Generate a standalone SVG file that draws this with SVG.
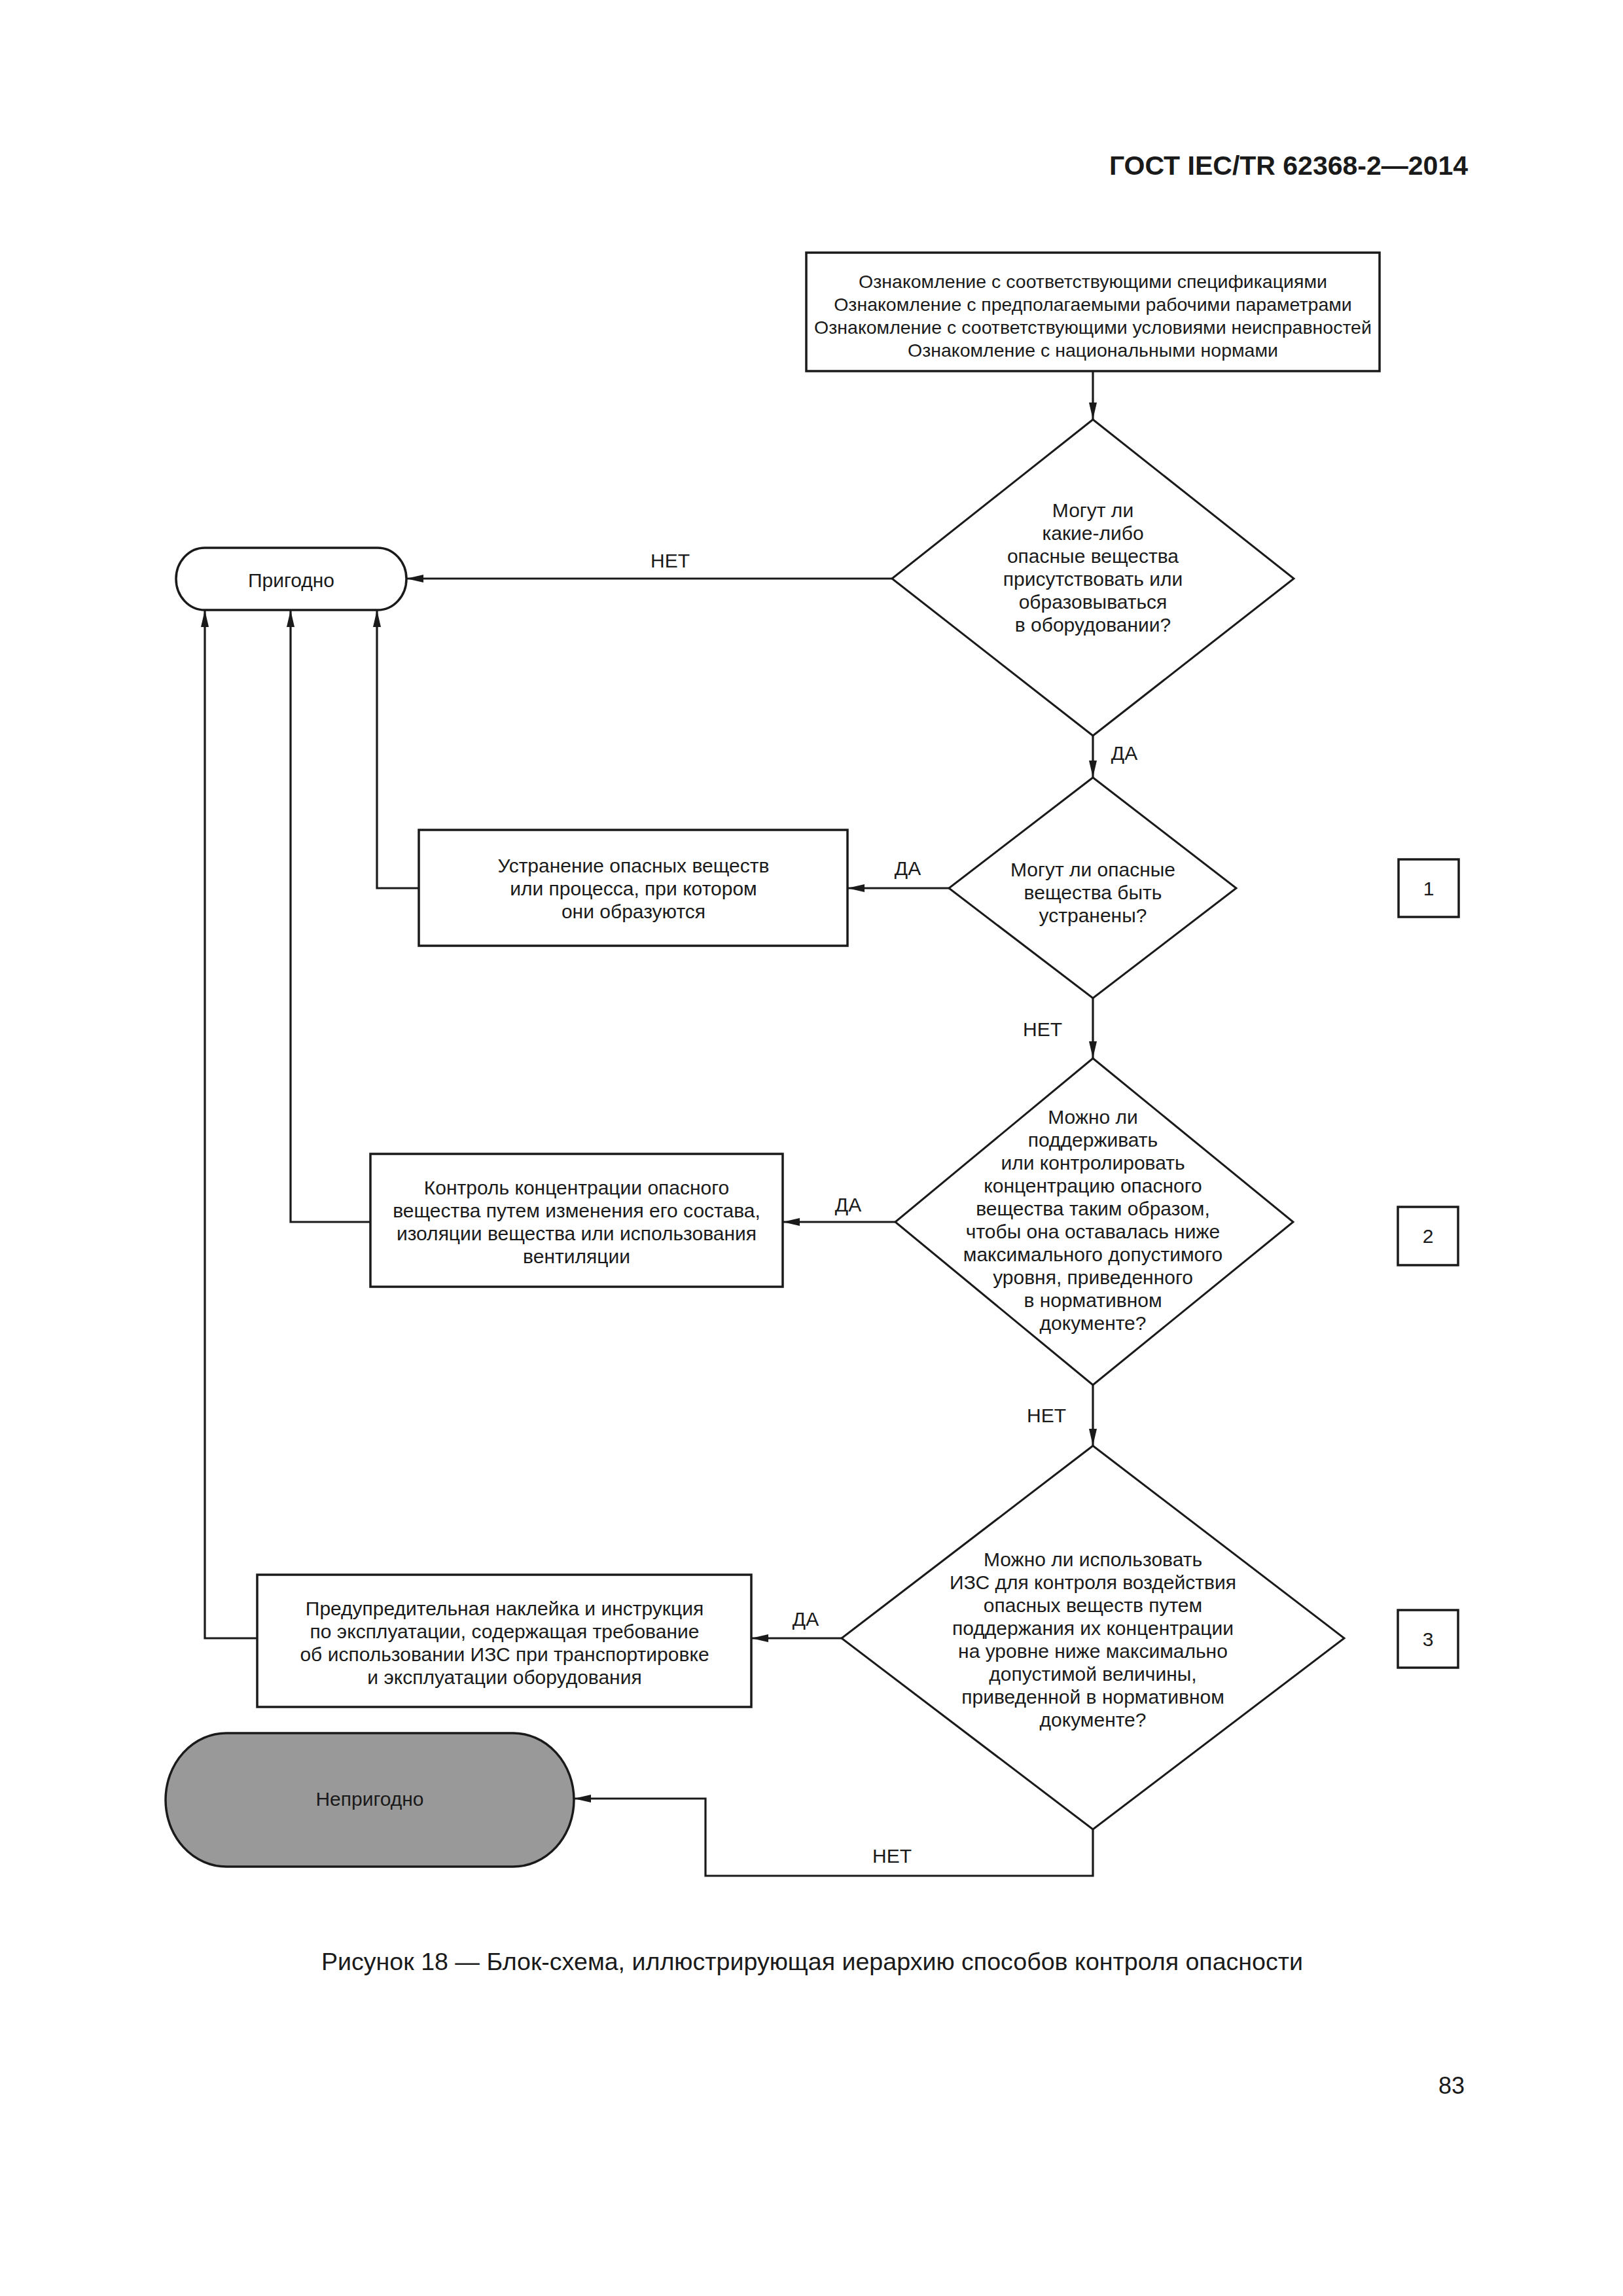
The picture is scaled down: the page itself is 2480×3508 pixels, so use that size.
<svg xmlns="http://www.w3.org/2000/svg" width="2480" height="3508" viewBox="0 0 2480 3508">
<style>
.bg{fill:#ffffff}
.box{fill:#ffffff;stroke:#1a1a1a;stroke-width:3.5}
.dia{fill:#ffffff;stroke:#1a1a1a;stroke-width:3}
.term{fill:#ffffff;stroke:#1a1a1a;stroke-width:3.5}
.termg{fill:#999999;stroke:#1a1a1a;stroke-width:3.5}
.ln{fill:none;stroke:#1a1a1a;stroke-width:3.2}
text{font-family:"Liberation Sans",Arial,sans-serif;fill:#1a1a1a}
.t{font-size:30px;text-anchor:middle}
.t29{font-size:28.5px;text-anchor:middle}
.lbl{font-size:30px;text-anchor:middle}
.hdr{font-size:41px;font-weight:bold;text-anchor:end}
.cap{font-size:37.6px;text-anchor:middle}
.pg{font-size:36px;text-anchor:end}
</style>
<defs>
<marker id="arr" markerUnits="userSpaceOnUse" markerWidth="26" markerHeight="12" refX="26" refY="6" orient="auto">
<path d="M0,0 L26,6 L0,12 Z" fill="#1a1a1a"/>
</marker>
</defs>
<rect class="bg" x="0" y="0" width="2480" height="3508"/>
<text class="hdr" x="2243" y="267">ГОСТ IEC/TR 62368-2—2014</text>

<g id="connectors">
<line class="ln" x1="1670" y1="567" x2="1670" y2="641" marker-end="url(#arr)"/>
<line class="ln" x1="1363" y1="884" x2="621" y2="884" marker-end="url(#arr)"/>
<line class="ln" x1="1670" y1="1124" x2="1670" y2="1188" marker-end="url(#arr)"/>
<line class="ln" x1="1450" y1="1357" x2="1295" y2="1357" marker-end="url(#arr)"/>
<polyline class="ln" points="640,1357 576,1357 576,932" marker-end="url(#arr)"/>
<line class="ln" x1="1670" y1="1525" x2="1670" y2="1617" marker-end="url(#arr)"/>
<line class="ln" x1="1368" y1="1867" x2="1196" y2="1867" marker-end="url(#arr)"/>
<polyline class="ln" points="566,1867 444,1867 444,932" marker-end="url(#arr)"/>
<line class="ln" x1="1670" y1="2116" x2="1670" y2="2209" marker-end="url(#arr)"/>
<line class="ln" x1="1286" y1="2503" x2="1148" y2="2503" marker-end="url(#arr)"/>
<polyline class="ln" points="393,2503 313,2503 313,932" marker-end="url(#arr)"/>
<polyline class="ln" points="1670,2795 1670,2866 1078,2866 1078,2748 877,2748" marker-end="url(#arr)"/>
<text class="lbl" x="1024" y="867">НЕТ</text>
<text class="lbl" x="1718" y="1161">ДА</text>
<text class="lbl" x="1387" y="1337">ДА</text>
<text class="lbl" x="1593" y="1583">НЕТ</text>
<text class="lbl" x="1296" y="1851">ДА</text>
<text class="lbl" x="1599" y="2173">НЕТ</text>
<text class="lbl" x="1231" y="2484">ДА</text>
<text class="lbl" x="1363" y="2846">НЕТ</text>
</g>

<g id="start">
<rect class="box" x="1232" y="386" width="876" height="181"/>
<text class="t29" x="1670" y="440">Ознакомление с соответствующими спецификациями</text>
<text class="t29" x="1670" y="475">Ознакомление с предполагаемыми рабочими параметрами</text>
<text class="t29" x="1670" y="510">Ознакомление с соответствующими условиями неисправностей</text>
<text class="t29" x="1670" y="545">Ознакомление с национальными нормами</text>
</g>

<g id="decision1">
<polygon class="dia" points="1670,641 1977,884 1670,1124 1363,884"/>
<text class="t" x="1670" y="790">Могут ли</text>
<text class="t" x="1670" y="825">какие-либо</text>
<text class="t" x="1670" y="860">опасные вещества</text>
<text class="t" x="1670" y="895">присутствовать или</text>
<text class="t" x="1670" y="930">образовываться</text>
<text class="t" x="1670" y="965">в оборудовании?</text>
</g>

<g id="suitable">
<path class="term" d="M313,837 H577 A44,47.5 0 0 1 577,932 H313 A44,47.5 0 0 1 313,837 Z"/>
<text class="t" x="445" y="897">Пригодно</text>
</g>

<g id="decision2">
<polygon class="dia" points="1670,1188 1889,1357 1670,1525 1450,1357"/>
<text class="t" x="1670" y="1339">Могут ли опасные</text>
<text class="t" x="1670" y="1374">вещества быть</text>
<text class="t" x="1670" y="1409">устранены?</text>
</g>

<g id="eliminate">
<rect class="box" x="640" y="1268" width="655" height="177"/>
<text class="t" x="968" y="1333">Устранение опасных веществ</text>
<text class="t" x="968" y="1368">или процесса, при котором</text>
<text class="t" x="968" y="1403">они образуются</text>
</g>

<g id="level1">
<rect class="box" x="2137" y="1313" width="92" height="88"/>
<text class="t" x="2183" y="1368">1</text>
</g>

<g id="decision3">
<polygon class="dia" points="1670,1617 1976,1867 1670,2116 1368,1867"/>
<text class="t" x="1670" y="1717">Можно ли</text>
<text class="t" x="1670" y="1752">поддерживать</text>
<text class="t" x="1670" y="1787">или контролировать</text>
<text class="t" x="1670" y="1822">концентрацию опасного</text>
<text class="t" x="1670" y="1857">вещества таким образом,</text>
<text class="t" x="1670" y="1892">чтобы она оставалась ниже</text>
<text class="t" x="1670" y="1927">максимального допустимого</text>
<text class="t" x="1670" y="1962">уровня, приведенного</text>
<text class="t" x="1670" y="1997">в нормативном</text>
<text class="t" x="1670" y="2032">документе?</text>
</g>

<g id="control">
<rect class="box" x="566" y="1763" width="630" height="203"/>
<text class="t" x="881" y="1825">Контроль концентрации опасного</text>
<text class="t" x="881" y="1860">вещества путем изменения его состава,</text>
<text class="t" x="881" y="1895">изоляции вещества или использования</text>
<text class="t" x="881" y="1930">вентиляции</text>
</g>

<g id="level2">
<rect class="box" x="2136" y="1844" width="92" height="89"/>
<text class="t" x="2182" y="1899">2</text>
</g>

<g id="decision4">
<polygon class="dia" points="1670,2209 2054,2503 1670,2795 1286,2503"/>
<text class="t" x="1670" y="2393">Можно ли использовать</text>
<text class="t" x="1670" y="2428">ИЗС для контроля воздействия</text>
<text class="t" x="1670" y="2463">опасных веществ путем</text>
<text class="t" x="1670" y="2498">поддержания их концентрации</text>
<text class="t" x="1670" y="2533">на уровне ниже максимально</text>
<text class="t" x="1670" y="2568">допустимой величины,</text>
<text class="t" x="1670" y="2603">приведенной в нормативном</text>
<text class="t" x="1670" y="2638">документе?</text>
</g>

<g id="warning">
<rect class="box" x="393" y="2406" width="755" height="202"/>
<text class="t" x="771" y="2468">Предупредительная наклейка и инструкция</text>
<text class="t" x="771" y="2503">по эксплуатации, содержащая требование</text>
<text class="t" x="771" y="2538">об использовании ИЗС при транспортировке</text>
<text class="t" x="771" y="2573">и эксплуатации оборудования</text>
</g>

<g id="level3">
<rect class="box" x="2136" y="2460" width="92" height="88"/>
<text class="t" x="2182" y="2515">3</text>
</g>

<g id="unsuitable">
<path class="termg" d="M346,2648 H784 A93,102 0 0 1 784,2852 H346 A93,102 0 0 1 346,2648 Z"/>
<text class="t" x="565" y="2759">Непригодно</text>
</g>

<text class="cap" x="1241" y="3010">Рисунок 18 — Блок-схема, иллюстрирующая иерархию способов контроля опасности</text>
<text class="pg" x="2238" y="3199">83</text>
</svg>
